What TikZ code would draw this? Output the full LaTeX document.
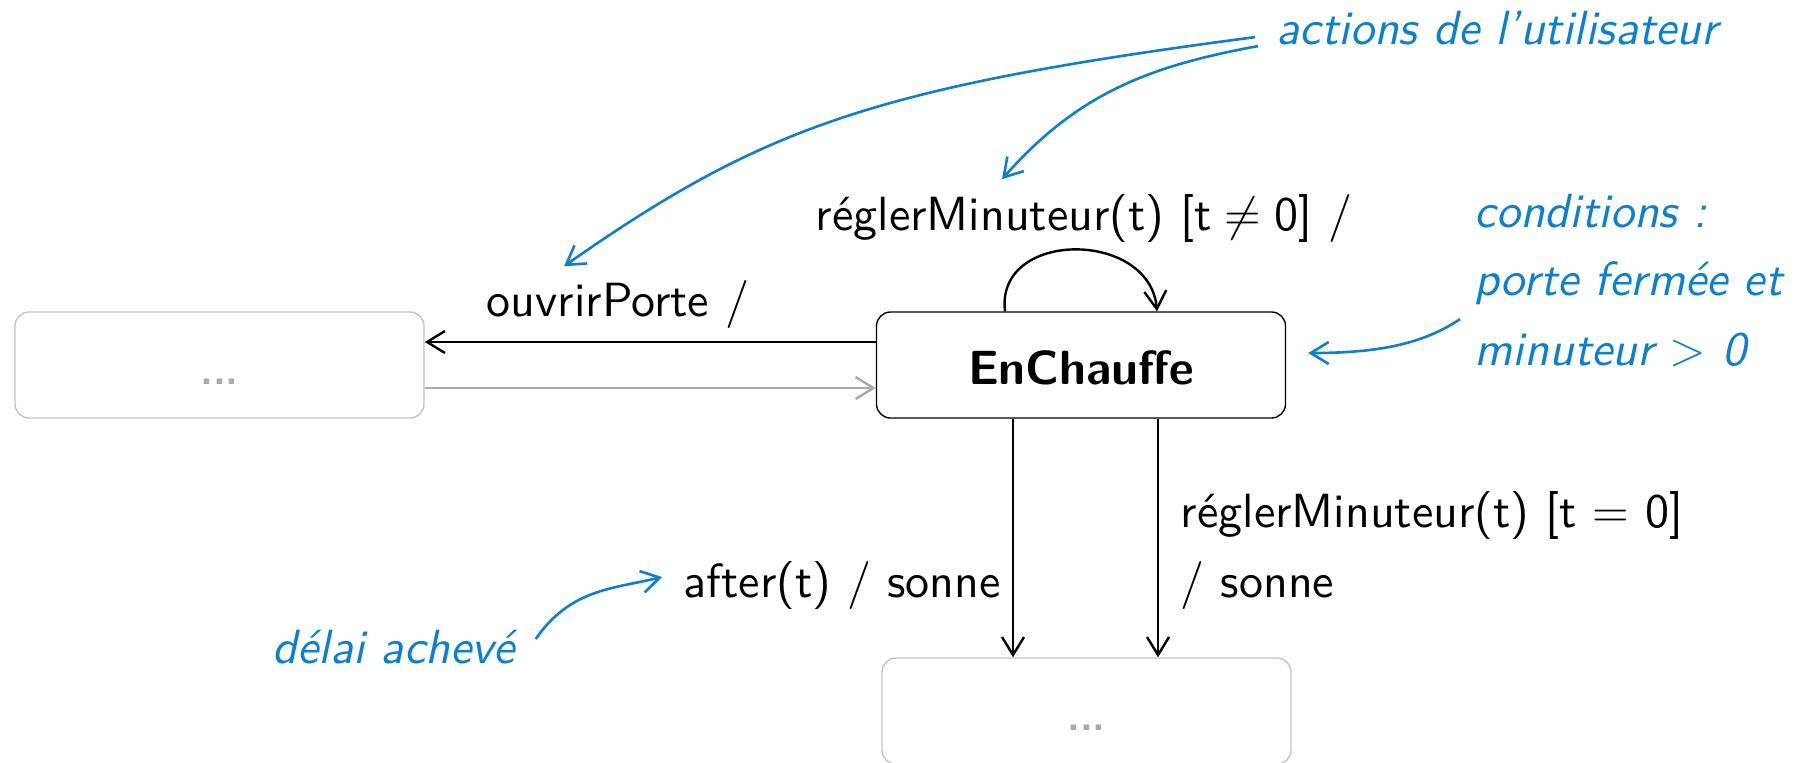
\documentclass[tikz,border=0pt]{standalone}
\usepackage{fontspec}
\setsansfont{lmsans10-regular.otf}[
  BoldFont=lmsans10-bold.otf,
  ItalicFont=lmsans10-oblique.otf,
  BoldItalicFont=lmsans10-boldoblique.otf]
\usetikzlibrary{arrows.meta}
\definecolor{notecol}{RGB}{10,128,208}
\definecolor{ghost}{RGB}{170,170,170}
\definecolor{ghostline}{RGB}{195,195,195}

\begin{document}
\begin{tikzpicture}[x=0.25pt,y=-0.25pt,
  font=\sffamily\fontsize{12}{17.5}\selectfont,
  >={Straight Barb[length=4.5pt,width=5.5pt]},
  stbox/.style={draw, rounded corners=3.5pt, minimum width=102.25pt,
    minimum height=26.5pt, text height=9.5pt, text depth=0pt,
    inner sep=0pt, line width=0.35pt},
  ghostbox/.style={stbox, draw=ghostline, text=ghost,
    font=\sffamily\bfseries\fontsize{10.5}{12}\selectfont},
  trans/.style={->, line width=0.6pt},
  lbl/.style={anchor=base west, inner sep=0pt},
  remark/.style={lbl, text=notecol,
    font=\sffamily\itshape\fontsize{12}{17.5}\selectfont},
  remarrow/.style={->, draw=notecol, line width=0.65pt}]

\useasboundingbox (0,0) rectangle (1805,762);

% states
\node[ghostbox] (prev) at (219.5,365) {...};
\node[stbox, font=\sffamily\bfseries\fontsize{12}{14}\selectfont]
  (heat) at (1081,365) {EnChauffe};
\node[ghostbox] (next) at (1086.5,711) {...};

% transitions
\draw[trans] ([yshift=5.75pt]heat.west) -- ([yshift=5.75pt]prev.east);
\draw[trans, draw=ghost] ([yshift=-5.75pt]prev.east) -- ([yshift=-5.75pt]heat.west);
\draw[trans] ([xshift=-19pt]heat.north) .. controls +(-10,-82) and +(-7,-82) .. ([xshift=19pt]heat.north);
\draw[trans] ([xshift=-17pt]heat.south) -- ([xshift=-17pt]heat.south |- next.north);
\draw[trans] ([xshift=19.25pt]heat.south) -- ([xshift=19.25pt]heat.south |- next.north);

% transition labels
\node[lbl] (lopen) at (486,316) {ouvrirPorte /};
\node[lbl] (lset) at (815,230) {réglerMinuteur(t) [t\;$\neq$\;0] /};
\node[lbl] (lafter) at (683,597) {after(t) / sonne};
\node[lbl] (lzero) at (1180,527) {réglerMinuteur(t) [t $=$ 0]};
\node[lbl] (lzerob) at (1180,597) {/ sonne};

% remarks
\node[remark] (act) at (1276,44) {actions de l’utilisateur};
\node[remark] (cond) at (1474,227) {conditions :};
\node[remark] (condb) at (1474,295) {porte fermée et};
\node[remark] (condc) at (1474,365) {minuteur $>$ 0};
\node[remark] (done) at (272,663) {délai achevé};

% remark pointers
\draw[remarrow] ([shift={(-21,9.5)}]act.west) .. controls +(-380,50) and +(200,-140) .. ([shift={(78,-13)}]lopen.north west);
\draw[remarrow] ([shift={(-18,18.5)}]act.west) .. controls +(-110,20) and +(75,-85) .. ([shift={(187,-14)}]lset.north west);
\draw[remarrow] ([shift={(-14,14)}]condb.south west) .. controls +(-40,27) and +(63,0) .. ([shift={(22,-12)}]heat.east);
\draw[remarrow] ([shift={(20,10)}]done.north east) .. controls +(35,-50) and +(-50,12) .. ([shift={(-21,-8)}]lafter.west);
\end{tikzpicture}
\end{document}
